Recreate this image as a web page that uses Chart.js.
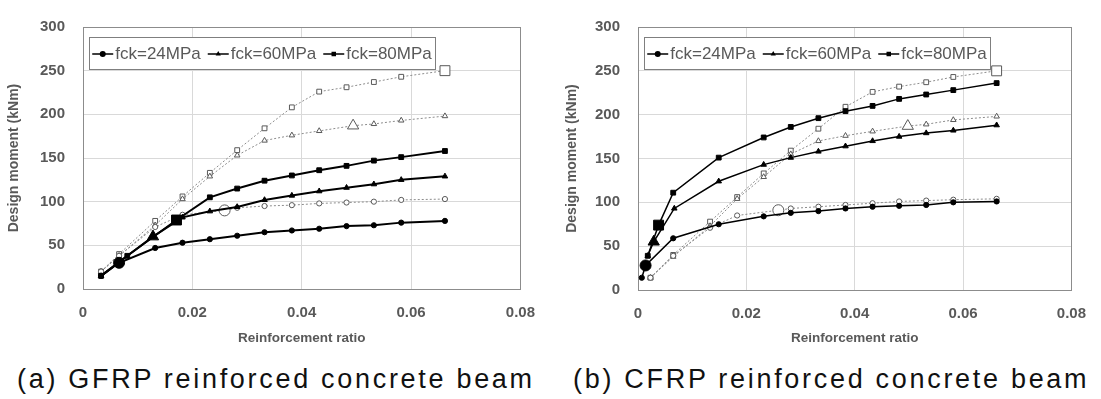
<!DOCTYPE html>
<html>
<head>
<meta charset="utf-8">
<script src="https://cdn.jsdelivr.net/npm/chart.js@4.4.0/dist/chart.umd.min.js"></script>
<style>
  body { margin: 0; background: #fff; width: 1101px; height: 399px; position: relative; overflow: hidden; }
  .box { position: absolute; top: 0; }
  .caption { position: absolute; top: 361px; font-family: 'Liberation Sans', sans-serif; font-size: 27px;
             letter-spacing: 2.7px; color: #111; white-space: nowrap; line-height: 36px; }
</style>
</head>
<body>
<div class="box" style="left:0"><canvas id="gfrp" width="550" height="350"></canvas></div>
<div class="box" style="left:550px"><canvas id="cfrp" width="551" height="350"></canvas></div>
<div class="caption" style="left:17px">(a) GFRP reinforced concrete beam</div>
<div class="caption" style="left:573px">(b) CFRP reinforced concrete beam</div>
<script>
const labels = ['fck=24MPa', 'fck=60MPa', 'fck=80MPa']
const xTicks = [0, 0.02, 0.04, 0.06, 0.08]
const yTicks = [0, 50, 100, 150, 200, 250, 300]

// (a) GFRP - solid lines
const gfrpRatio24 = [0.0033, 0.0066, 0.0132, 0.0182, 0.0232, 0.0282, 0.0332, 0.0382, 0.0432, 0.0482, 0.0532, 0.0582, 0.0662]
const gfrpMoment24 = [15, 30, 47, 53, 57, 61, 65, 67, 69, 72, 73, 76, 78]
const gfrpRatio60 = [0.0033, 0.0066, 0.0128, 0.0182, 0.0232, 0.0282, 0.0332, 0.0382, 0.0432, 0.0482, 0.0532, 0.0582, 0.0662]
const gfrpMoment60 = [15, 31, 60, 82, 89, 94, 102, 107, 112, 116, 120, 125, 129]
const gfrpRatio80 = [0.0033, 0.0081, 0.0171, 0.0232, 0.0282, 0.0332, 0.0382, 0.0432, 0.0482, 0.0532, 0.0582, 0.0662]
const gfrpMoment80 = [15, 38, 79, 105, 115, 124, 130, 136, 141, 147, 151, 158]
// (a) GFRP - dotted lines, hollow markers
const gfrpRatio24b = [0.0033, 0.0066, 0.0132, 0.0182, 0.0259, 0.0282, 0.0332, 0.0382, 0.0432, 0.0482, 0.0532, 0.0582, 0.0662]
const gfrpMoment24b = [20, 38, 71, 85, 90, 93, 95, 96, 98, 99, 100, 102, 103]
const gfrpRatio60b = [0.0033, 0.0066, 0.0132, 0.0182, 0.0232, 0.0282, 0.0332, 0.0382, 0.0432, 0.0494, 0.0532, 0.0582, 0.0662]
const gfrpMoment60b = [20, 38, 73, 103, 129, 153, 170, 176, 181, 187, 189, 193, 198]
const gfrpRatio80b = [0.0033, 0.0066, 0.0132, 0.0182, 0.0232, 0.0282, 0.0332, 0.0382, 0.0432, 0.0482, 0.0532, 0.0582, 0.0662]
const gfrpMoment80b = [20, 40, 78, 106, 133, 159, 184, 208, 226, 231, 237, 243, 250]
const gfrpBigPoint = [1, 2, 2, 4, 9, 12]

// (b) CFRP - solid lines
const cfrpRatio24 = [0.0007, 0.0014, 0.0065, 0.0149, 0.0232, 0.0282, 0.0333, 0.0383, 0.0433, 0.0482, 0.0532, 0.0582, 0.0662]
const cfrpMoment24 = [14, 28, 59, 75, 84, 88, 90, 93, 95, 96, 97, 100, 101]
const cfrpRatio60 = [0.0018, 0.0029, 0.0067, 0.0149, 0.0232, 0.0282, 0.0333, 0.0383, 0.0433, 0.0482, 0.0532, 0.0582, 0.0662]
const cfrpMoment60 = [39, 55, 93, 124, 143, 151, 158, 164, 170, 175, 179, 182, 188]
const cfrpRatio80 = [0.0018, 0.0038, 0.0065, 0.0149, 0.0232, 0.0282, 0.0333, 0.0383, 0.0433, 0.0482, 0.0532, 0.0582, 0.0662]
const cfrpMoment80 = [39, 74, 111, 151, 174, 186, 196, 204, 210, 218, 223, 228, 236]
// (b) CFRP - dotted lines, hollow markers
const cfrpRatio24b = [0.0023, 0.0065, 0.0133, 0.0183, 0.0259, 0.0282, 0.0333, 0.0383, 0.0433, 0.0482, 0.0532, 0.0582, 0.0662]
const cfrpMoment24b = [14, 39, 71, 85, 91, 93, 95, 97, 99, 101, 102, 103, 104]
const cfrpRatio60b = [0.0023, 0.0065, 0.0133, 0.0183, 0.0232, 0.0282, 0.0333, 0.0383, 0.0433, 0.0498, 0.0532, 0.0582, 0.0662]
const cfrpMoment60b = [14, 38, 73, 104, 129, 155, 170, 176, 181, 187, 189, 194, 198]
const cfrpRatio80b = [0.0023, 0.0065, 0.0133, 0.0183, 0.0232, 0.0282, 0.0333, 0.0383, 0.0433, 0.0482, 0.0532, 0.0582, 0.0662]
const cfrpMoment80b = [14, 40, 78, 106, 133, 159, 184, 209, 226, 232, 237, 243, 250]
const cfrpBigPoint = [1, 1, 1, 4, 9, 12]

const FONT = "'Liberation Sans', Arial, sans-serif"
const shapes = ['circle', 'triangle', 'rect']
const smallR = { circle: 2.6, triangle: 3.2, rect: 3.4 }
const bigR = { circle: 5.5, triangle: 6.5, rect: 7 }

function buildDatasets(solidX, solidY, hollowX, hollowY, big, lineWidth) {
    const sets = []
    for (let i = 0; i < 3; i++) {
        sets.push(makeSet(labels[i], solidX[i], solidY[i], shapes[i], big[i], true, lineWidth))
    }
    for (let i = 0; i < 3; i++) {
        sets.push(makeSet(labels[i] + ' (b)', hollowX[i], hollowY[i], shapes[i], big[i + 3], false, 1))
    }
    return sets
}

function makeSet(label, xs, ys, shape, bigIdx, solid, lineWidth) {
    return {
        label: label,
        data: xs.map((x, i) => ({ x: x, y: ys[i] })),
        showLine: true,
        inLegend: solid,
        borderColor: solid ? '#000' : '#8c8c8c',
        borderWidth: lineWidth,
        borderDash: solid ? [] : [2, 2],
        pointStyle: shape,
        pointRadius: xs.map((_, i) => i === bigIdx ? bigR[shape] : smallR[shape]),
        pointHoverRadius: 0,
        pointBackgroundColor: solid ? '#000' : '#fff',
        pointBorderColor: solid ? '#000' : '#595959',
        pointBorderWidth: 1
    }
}

function drawMarker(ctx, shape, x, y, r) {
    ctx.beginPath()
    if (shape === 'circle') {
        ctx.arc(x, y, r, 0, Math.PI * 2)
    } else if (shape === 'triangle') {
        ctx.moveTo(x, y - r)
        ctx.lineTo(x + r * 0.87, y + r * 0.5)
        ctx.lineTo(x - r * 0.87, y + r * 0.5)
        ctx.closePath()
    } else {
        ctx.rect(x - r * 0.75, y - r * 0.75, r * 1.5, r * 1.5)
    }
    ctx.fill()
}

// legend box drawn inside the plot area
const boxLegend = {
    id: 'boxLegend',
    afterDatasetsDraw(chart) {
        const ctx = chart.ctx
        const area = chart.chartArea
        const items = chart.data.datasets.filter(d => d.inLegend)
        const left = Math.round(area.left) + 6, top = Math.round(area.top) + 10
        const w = 346, h = 32
        ctx.save()
        ctx.fillStyle = '#fff'
        ctx.fillRect(left, top, w, h)
        ctx.strokeStyle = '#7f7f7f'
        ctx.lineWidth = 1
        ctx.strokeRect(left + 0.5, top + 0.5, w, h)
        ctx.font = '17px ' + FONT
        ctx.textBaseline = 'middle'
        const lineLen = 21, gapText = 2, gapItem = 7
        const widths = items.map(d => lineLen + gapText + ctx.measureText(d.label).width)
        const total = widths.reduce((a, b) => a + b) + gapItem * (items.length - 1)
        let x = left + (w - total) / 2
        const cy = top + h / 2 + 1
        items.forEach((d, i) => {
            ctx.strokeStyle = '#000'
            ctx.lineWidth = 1.5
            ctx.beginPath()
            ctx.moveTo(x, cy)
            ctx.lineTo(x + lineLen, cy)
            ctx.stroke()
            ctx.fillStyle = '#000'
            drawMarker(ctx, d.pointStyle, x + lineLen / 2, cy, 3)
            ctx.fillStyle = '#595959'
            ctx.fillText(d.label, x + lineLen + gapText, cy)
            x += widths[i] + gapItem
        })
        ctx.restore()
    }
}

const plotFrame = {
    id: 'plotFrame',
    beforeDatasetsDraw(chart) {
        const ctx = chart.ctx
        const a = chart.chartArea
        ctx.save()
        ctx.strokeStyle = '#8c8c8c'
        ctx.lineWidth = 1
        ctx.strokeRect(Math.round(a.left) + 0.5, Math.round(a.top) + 0.5,
            Math.round(a.right - a.left), Math.round(a.bottom - a.top))
        ctx.restore()
    }
}

function makeChart(id, datasets, layout) {
    return new Chart(document.getElementById(id).getContext('2d'), {
        type: 'scatter',
        data: { datasets: datasets },
        plugins: [plotFrame, boxLegend],
        options: {
            responsive: false,
            animation: false,
            devicePixelRatio: 1,
            layout: { padding: { left: 0, top: layout.top, right: layout.right, bottom: 4 } },
            plugins: { legend: { display: false }, tooltip: { enabled: false } },
            scales: {
                x: {
                    type: 'linear',
                    min: xTicks[0],
                    max: xTicks[xTicks.length - 1],
                    afterFit: (scale) => { scale.height = layout.xHeight },
                    ticks: {
                        stepSize: xTicks[1] - xTicks[0],
                        callback: (v) => v === 0 ? '0' : v.toFixed(2),
                        font: { family: FONT, size: 15, weight: 'bold' },
                        color: '#595959',
                        padding: 15
                    },
                    grid: { color: '#d9d9d9', drawTicks: false },
                    border: { display: false },
                    title: {
                        display: true,
                        text: 'Reinforcement ratio',
                        font: { family: FONT, size: 13.5, weight: 'bold' },
                        color: '#595959',
                        padding: { top: 0, bottom: 0 }
                    }
                },
                y: {
                    min: yTicks[0],
                    max: yTicks[yTicks.length - 1],
                    afterFit: (scale) => { scale.width = layout.yWidth },
                    ticks: {
                        stepSize: yTicks[1] - yTicks[0],
                        font: { family: FONT, size: 15, weight: 'bold' },
                        color: '#595959',
                        padding: 18
                    },
                    grid: { color: '#d9d9d9', drawTicks: false },
                    border: { display: false },
                    title: {
                        display: true,
                        text: 'Design moment (kNm)',
                        font: { family: FONT, size: 14, weight: 'bold' },
                        color: '#595959',
                        padding: { top: layout.titlePad, bottom: 0 }
                    }
                }
            }
        }
    })
}

makeChart('gfrp',
    buildDatasets([gfrpRatio24, gfrpRatio60, gfrpRatio80], [gfrpMoment24, gfrpMoment60, gfrpMoment80],
        [gfrpRatio24b, gfrpRatio60b, gfrpRatio80b], [gfrpMoment24b, gfrpMoment60b, gfrpMoment80b], gfrpBigPoint, 2),
    { top: 15, right: 24, xHeight: 57, yWidth: 83, titlePad: 6 })

makeChart('cfrp',
    buildDatasets([cfrpRatio24, cfrpRatio60, cfrpRatio80], [cfrpMoment24, cfrpMoment60, cfrpMoment80],
        [cfrpRatio24b, cfrpRatio60b, cfrpRatio80b], [cfrpMoment24b, cfrpMoment60b, cfrpMoment80b], cfrpBigPoint, 1.5),
    { top: 13, right: 18, xHeight: 56, yWidth: 88, titlePad: 14 })
</script>
</body>
</html>
